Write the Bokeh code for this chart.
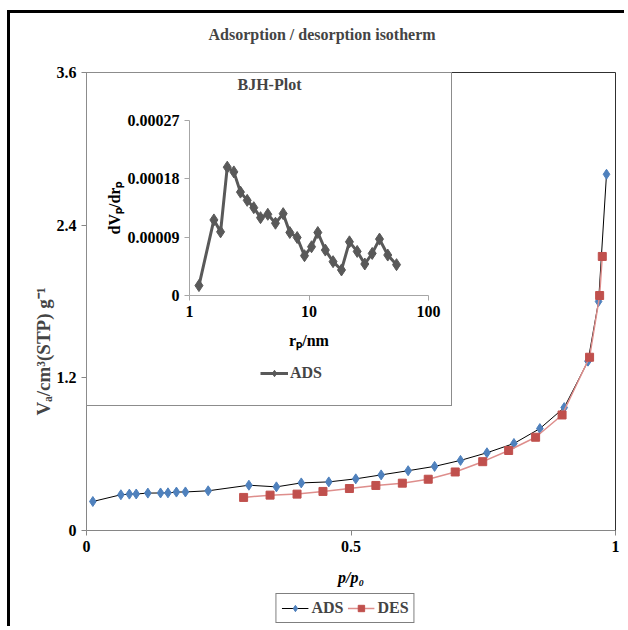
from bokeh.plotting import figure
from bokeh.models import FixedTicker, LinearAxis, Title, Legend, LegendItem, Range1d
from bokeh.embed import file_html
from bokeh.resources import INLINE

# ---- isotherm data (p/p0, V) ----
ads_p = [0.012, 0.065, 0.081, 0.094, 0.116, 0.140, 0.154, 0.170, 0.187, 0.230,
         0.307, 0.359, 0.406, 0.458, 0.509, 0.557, 0.608, 0.658, 0.707, 0.757,
         0.808, 0.857, 0.903, 0.948, 0.968, 0.983]
ads_v = [0.228, 0.281, 0.286, 0.287, 0.294, 0.295, 0.296, 0.302, 0.303, 0.312,
         0.356, 0.343, 0.374, 0.382, 0.406, 0.437, 0.470, 0.504, 0.551, 0.611,
         0.684, 0.801, 0.966, 1.331, 1.800, 2.800]
des_p = [0.297, 0.347, 0.398, 0.447, 0.497, 0.547, 0.597, 0.646, 0.697, 0.749,
         0.798, 0.849, 0.899, 0.951, 0.970, 0.975]
des_v = [0.260, 0.278, 0.286, 0.307, 0.330, 0.354, 0.372, 0.403, 0.460, 0.541,
         0.629, 0.733, 0.908, 1.362, 1.847, 2.154]

# ---- BJH inset data (r_p / nm, dV/dr) ----
bjh_r = [1.20, 1.60, 1.82, 2.07, 2.35, 2.67, 3.04, 3.45, 3.93, 4.52, 5.24, 6.08,
         6.91, 7.96, 9.17, 10.5, 11.85, 13.7, 15.9, 18.7, 21.8, 25.3, 29.3, 33.8,
         38.9, 45.6, 54.0]
bjh_dv = [0.0000153, 0.0001166, 0.0000982, 0.000198, 0.0001907, 0.0001595,
          0.0001468, 0.0001355, 0.0001201, 0.0001253, 0.0001115, 0.0001263,
          0.0000972, 0.0000895, 0.0000614, 0.0000752, 0.0000972, 0.0000701,
          0.0000522, 0.0000394, 0.0000828, 0.0000680, 0.0000486, 0.0000649,
          0.0000870, 0.0000624, 0.0000476]

main_xticks = [0, 0.5, 1]
main_xlabels = ["0", "0.5", "1"]
main_yticks = [0, 1.2, 2.4, 3.6]
main_ylabels = ["0", "1.2", "2.4", "3.6"]
ins_xticks = [1, 10, 100]
ins_xlabels = ["1", "10", "100"]
ins_yticks = [0, 0.00009, 0.00018, 0.00027]
ins_ylabels = ["0", "0.00009", "0.00018", "0.00027"]

FONT = "Liberation Serif"

ADS_STYLE = dict(line_color="black", line_width=1)
ADS_MARK = dict(marker="diamond", size=10, fill_color="#4F81BD", line_color="#4F81BD")
DES_STYLE = dict(line_color="#DE8E8C", line_width=1.5)
DES_MARK = dict(marker="square", size=8, fill_color="#C0504D", line_color="#C0504D")
BJH_STYLE = dict(line_color="#595959", line_width=3)
BJH_MARK = dict(marker="diamond", size=12, fill_color="#595959", line_color="#595959")


def style_axis(ax, color="#868686"):
    ax.axis_line_color = color
    ax.major_tick_line_color = color
    ax.minor_tick_line_color = None
    ax.major_tick_out = 5
    ax.major_tick_in = 0
    ax.major_label_text_font = FONT
    ax.major_label_text_font_style = "bold"
    ax.major_label_text_font_size = "16px"
    ax.major_label_text_color = "black"
    ax.axis_label_text_font = FONT
    ax.axis_label_text_font_style = "bold"
    ax.axis_label_text_font_size = "16px"
    ax.axis_label_text_color = "black"


def spacer_axis(gap, color):
    # an axis with no ticks whose blank label only reserves room for the title
    ax = LinearAxis(ticker=FixedTicker(ticks=[]), axis_line_color=color,
                    major_tick_line_color=None, minor_tick_line_color=None,
                    major_tick_out=0, major_tick_in=0, major_label_standoff=0,
                    major_label_text_font_size="0px")
    if gap:
        ax.axis_label = " "
        ax.axis_label_text_font_size = "15px"
        ax.axis_label_standoff = gap
    return ax


def legend_figure(w, h, left, top):
    f = figure(width=w, height=h, x_range=Range1d(-2, -1), y_range=Range1d(-2, -1),
               output_backend="svg", toolbar_location=None,
               x_axis_location=None, y_axis_location=None, min_border=0)
    f.xgrid.visible = False
    f.ygrid.visible = False
    f.outline_line_color = None
    f.background_fill_color = None
    f.border_fill_color = None
    f.styles = {"position": "absolute", "left": f"{left}px", "top": f"{top}px"}
    return f


# ================= main chart =================
p = figure(width=617, height=616, x_range=Range1d(0, 1), y_range=Range1d(0, 3.6),
           output_backend="svg", toolbar_location=None,
           min_border_left=76, min_border_right=12, min_border_top=59,
           min_border_bottom=99)
p.styles = {"border-left": "3px solid black", "border-top": "3px solid black",
            "margin-left": "7px", "margin-top": "10px"}
p.xgrid.visible = False
p.ygrid.visible = False
p.outline_line_color = None

p.xaxis.ticker = FixedTicker(ticks=main_xticks)
p.xaxis.major_label_overrides = dict(zip(main_xticks, main_xlabels))
p.yaxis.ticker = FixedTicker(ticks=main_yticks)
p.yaxis.major_label_overrides = dict(zip(main_yticks, main_ylabels))
style_axis(p.xaxis[0])
style_axis(p.yaxis[0])
p.xaxis.axis_label = "p/p₀"
p.xaxis.axis_label_text_font_style = "bold italic"
p.xaxis.axis_label_standoff = 14

p.add_layout(spacer_axis(10, "#303030"), "above")
p.add_layout(spacer_axis(0, "#303030"), "right")

p.title.text = "Adsorption / desorption isotherm"
p.title.align = "left"
p.title.offset = 122
p.title.standoff = 0
p.title.text_font = FONT
p.title.text_font_style = "bold"
p.title.text_font_size = "16px"

ylab = Title(text="Vₐ/cm³(STP)  g⁻¹", align="left", offset=115, standoff=0,
             text_font=FONT, text_font_style="bold", text_font_size="19px")
p.add_layout(ylab, "left")

p.line(ads_p, ads_v, **ADS_STYLE)
p.scatter(ads_p, ads_v, **ADS_MARK)
p.line(des_p, des_v, **DES_STYLE)
p.scatter(des_p, des_v, **DES_MARK)

# main legend (own small canvas; its sample renderers lie outside its view)
lg = legend_figure(160, 44, 265, 586)
l1 = lg.line(ads_p[:2], ads_v[:2], **ADS_STYLE)
m1 = lg.scatter(ads_p[:2], ads_v[:2], **ADS_MARK)
l2 = lg.line(des_p[:2], des_v[:2], **DES_STYLE)
m2 = lg.scatter(des_p[:2], des_v[:2], **DES_MARK)
lg.add_layout(Legend(items=[LegendItem(label="ADS", renderers=[l1, m1]),
                            LegendItem(label="DES", renderers=[l2, m2])],
                     orientation="horizontal", location="center",
                     border_line_color="black", border_line_width=1,
                     padding=5, spacing=4, margin=0, glyph_width=27,
                     glyph_height=16, label_height=16, label_standoff=3,
                     label_text_font=FONT, label_text_font_style="bold",
                     label_text_font_size="16px", background_fill_color="white"))

# ================= inset chart =================
ins = figure(width=366, height=334, x_axis_type="log", x_range=Range1d(1, 100),
             y_range=Range1d(0, 0.00027), output_backend="svg",
             toolbar_location=None, min_border_left=102, min_border_right=25,
             min_border_top=46, min_border_bottom=112)
ins.styles = {"position": "absolute", "left": "86px", "top": "72px",
              "border": "1px solid #8c8c8c", "background": "white"}
ins.xgrid.visible = False
ins.ygrid.visible = False
ins.outline_line_color = None
ins.xaxis.ticker = FixedTicker(ticks=ins_xticks)
ins.xaxis.major_label_overrides = dict(zip(ins_xticks, ins_xlabels))
ins.yaxis.ticker = FixedTicker(ticks=ins_yticks)
ins.yaxis.major_label_overrides = dict(zip(ins_yticks, ins_ylabels))
style_axis(ins.xaxis[0], "#a6a6a6")
style_axis(ins.yaxis[0], "#a6a6a6")
ins.xaxis.axis_label = "rₚ/nm"
ins.xaxis.axis_label_standoff = 12
ins.yaxis.axis_label = "dVₚ/drₚ"
ins.yaxis.axis_label_standoff = 2
ins.add_layout(spacer_axis(8, None), "above")

ins.title.text = "BJH-Plot"
ins.title.align = "left"
ins.title.offset = 48
ins.title.standoff = 0
ins.title.text_font = FONT
ins.title.text_font_style = "bold"
ins.title.text_font_size = "16px"

ins.line(bjh_r, bjh_dv, **BJH_STYLE)
ins.scatter(bjh_r, bjh_dv, **BJH_MARK)

# inset legend
ilg = legend_figure(90, 26, 250, 360)
l3 = ilg.line(bjh_r[:2], bjh_dv[:2], **BJH_STYLE)
m3 = ilg.scatter(bjh_r[:2], bjh_dv[:2], **BJH_MARK)
ilg.add_layout(Legend(items=[LegendItem(label="ADS", renderers=[l3, m3])],
                      location="left", border_line_color=None,
                      background_fill_alpha=0, padding=0, margin=10,
                      glyph_width=28, glyph_height=16, label_height=16,
                      label_standoff=2, label_text_font=FONT,
                      label_text_font_style="bold", label_text_font_size="16px"))

open("out.html", "w").write(file_html([p, ins, lg, ilg], INLINE))
